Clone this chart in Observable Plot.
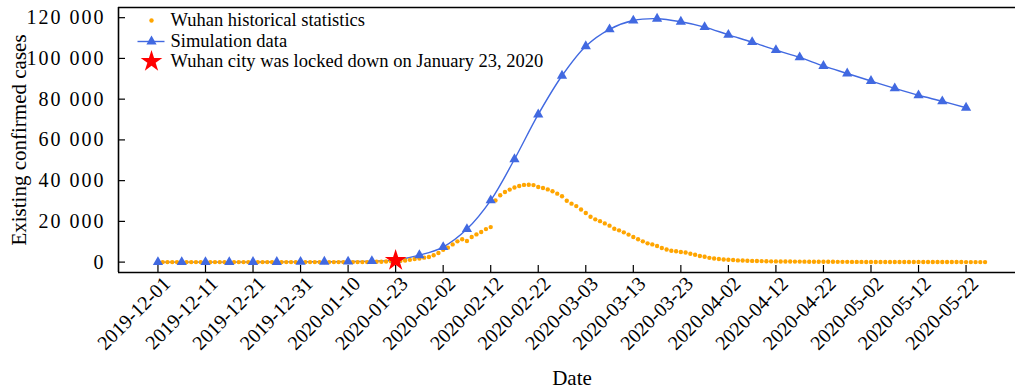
<!DOCTYPE html>
<html>
<head>
<meta charset="utf-8">
<script src="https://cdn.jsdelivr.net/npm/d3@7"></script>
<script src="https://cdn.jsdelivr.net/npm/@observablehq/plot@0.6"></script>
<style>
  html, body { margin: 0; padding: 0; background: #fff; overflow: hidden; }
  #chart svg { display: block; }
  #chart g[aria-label="y-axis tick label"] text { letter-spacing: 2px; }
</style>
</head>
<body>
<div id="chart"></div>
<script>
// ---- Data ----
// x tick positions (day index from 2019-12-01) and their labels
const tickIndex = [0, 10, 20, 30, 40, 50, 60, 70, 80, 90, 100, 110, 120, 130, 140, 150, 160, 170];
const tickLabels = ["2019-12-01", "2019-12-11", "2019-12-21", "2019-12-31", "2020-01-10", "2020-01-23",
  "2020-02-02", "2020-02-12", "2020-02-22", "2020-03-03", "2020-03-13", "2020-03-23",
  "2020-04-02", "2020-04-12", "2020-04-22", "2020-05-02", "2020-05-12", "2020-05-22"];
const yTicks = [0, 20000, 40000, 60000, 80000, 100000, 120000];

// Wuhan historical statistics: one value per day, day index 0..174
const historical = [
  0, 0, 0, 0, 0, 0, 0, 0, 0, 0,
  0, 0, 0, 0, 0, 0, 0, 0, 0, 0,
  0, 0, 0, 0, 0, 0, 0, 0, 0, 0,
  0, 0, 0, 0, 0, 0, 0, 0, 0, 0,
  0, 0, 0, 0, 0,
  100, 150, 200, 300, 400, 500, 600, 800, 1100, 1500,
  1800, 2200, 2500, 3400, 4500, 6100, 7100, 8700, 10200, 11200,
  10400, 12300, 13600, 14800, 16200, 17200,
  30300, 32800, 34400, 35600, 36600, 37400, 37900, 38000, 37800, 36900,
  36400, 35700, 34800, 33600, 32300, 30100, 28700, 27500, 25800, 24100,
  22300, 21000, 20100, 19000, 17900, 16400, 15600, 14600, 13500, 12300,
  11200, 10200, 9200, 8700, 7900, 6900, 6200, 5600, 5300, 5000,
  4700, 4100, 3600, 3000, 2600, 2100, 1800, 1500, 1300, 1150,
  1000, 850, 800, 650, 600, 550, 500, 400, 380, 350,
  320, 300, 280, 260, 240, 220, 200, 190, 180, 170,
  160, 150, 140, 130, 120, 110, 100, 95, 90, 85,
  80, 75, 70, 65, 60, 55, 50, 45, 40, 38,
  36, 34, 32, 30, 28, 26, 24, 22, 20, 18,
  16, 14, 12, 10
];

// Simulation data: every 5 days
const simDay = [0, 5, 10, 15, 20, 25, 30, 35, 40, 45, 50, 55, 60, 65, 70, 75, 80, 85,
  90, 95, 100, 105, 110, 115, 120, 125, 130, 135, 140, 145, 150, 155, 160, 165, 170];
const simValue = [0, 0, 0, 0, 50, 80, 120, 180, 280, 500, 1000, 3400, 7400, 16200, 30300, 50500, 72500, 91500,
  106000, 114300, 118600, 119500, 118000, 115400, 111600, 108000, 104100, 100500, 96300, 92600, 88900, 85300, 81900, 78950, 75800];

// Lockdown marker
const lockdownDay = [50];
const lockdownValue = [800];

const legendLabels = ["Wuhan historical statistics", "Simulation data", "Wuhan city was locked down on January 23, 2020"];
const xTitle = "Date";
const yTitle = "Existing confirmed cases";

// ---- Build tables ----
const histData = historical.map((v, i) => ({day: i, value: v}));
const simData = simDay.map((d, i) => ({day: d, value: simValue[i]}));
const lockData = lockdownDay.map((d, i) => ({day: d, value: lockdownValue[i]}));

const ORANGE = "#FFA500";
const BLUE = "#4169E1";
const XDOM = [-8.3, 180.4];
const YDOM = [-5100, 125000];

const fmtY = v => d3.format(",")(v).replace(/,/g, " ");

const lineSymbol = {
  draw(context) { context.moveTo(-14, 0); context.lineTo(13, 0); }
};

const legendX = 33, legendTextX = 52;
const legendY = [13, 34, 54];

const chart = Plot.plot({
  width: 1015,
  height: 391,
  marginLeft: 118,
  marginRight: 0,
  marginTop: 7,
  marginBottom: 119,
  style: {fontFamily: "'Liberation Serif', 'Times New Roman', serif", fontSize: "20px", background: "#fff", color: "#000"},
  x: {domain: XDOM},
  y: {domain: YDOM},
  marks: [
    // frame: left, top, bottom
    Plot.ruleX([XDOM[0]], {stroke: "#000", strokeWidth: 1.6}),
    Plot.ruleY([YDOM[0], YDOM[1]], {stroke: "#000", strokeWidth: 1.6}),
    Plot.axisY({
      ticks: yTicks, tickFormat: fmtY, tickSize: -7, tickPadding: 20,
      stroke: "#000", strokeWidth: 1.2, fontSize: 20, label: null
    }),
    // x tick marks (inside)
    Plot.axisX({
      ticks: tickIndex, tickFormat: () => "", tickSize: -7,
      stroke: "#000", strokeWidth: 1.2, label: null
    }),
    // x tick labels (rotated)
    Plot.axisX({
      ticks: tickIndex, tickFormat: d => tickLabels[tickIndex.indexOf(d)], tickSize: 0, tickRotate: -45,
      tickPadding: 8, dx: 9, fontSize: 20, label: null
    }),
    Plot.text([yTitle], {frameAnchor: "left", dx: -99, rotate: -90, text: d => d, fontSize: 21, fill: "#000", textAnchor: "middle", lineAnchor: "middle"}),
    Plot.text([xTitle], {frameAnchor: "bottom", dx: 5, dy: 106, text: d => d, fontSize: 21, fill: "#000", lineAnchor: "middle"}),
    Plot.line(simData, {x: "day", y: "value", stroke: BLUE, strokeWidth: 1.4, curve: "catmull-rom"}),
    Plot.dot(histData, {x: "day", y: "value", r: 2.2, fill: ORANGE, stroke: null}),
    Plot.dot(simData, {x: "day", y: "value", symbol: "triangle", r: 3.8, fill: BLUE, stroke: null}),
    Plot.dot(lockData, {x: "day", y: "value", symbol: "star", r: 6.8, fill: "#FF0000", stroke: null}),
    // legend
    Plot.dot([0], {frameAnchor: "top-left", dx: legendX, dy: legendY[0], r: 2.2, fill: ORANGE}),
    Plot.dot([0], {frameAnchor: "top-left", dx: legendX, dy: legendY[1], symbol: lineSymbol, stroke: BLUE, strokeWidth: 1.4, r: 5}),
    Plot.dot([0], {frameAnchor: "top-left", dx: legendX, dy: legendY[1], symbol: "triangle", r: 3.8, fill: BLUE}),
    Plot.dot([0], {frameAnchor: "top-left", dx: legendX, dy: legendY[2], symbol: "star", r: 6.8, fill: "#FF0000"}),
    ...legendLabels.map((t, i) => Plot.text([t], {
      frameAnchor: "top-left", dx: legendTextX, dy: legendY[i], text: d => d,
      textAnchor: "start", lineAnchor: "middle", fontSize: 18.5, fill: "#000"
    }))
  ]
});
document.getElementById("chart").appendChild(chart);
</script>
</body>
</html>
